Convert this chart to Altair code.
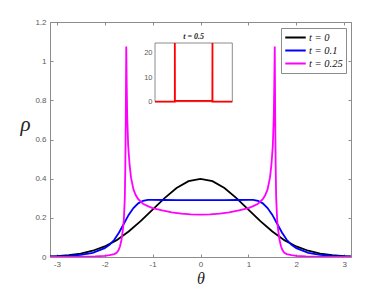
import altair as alt
import pandas as pd

PI = 3.14159

# ---- main curves ----
theta_t0 = [-3.14, -3.0, -2.75, -2.5, -2.25, -2.0, -1.75, -1.5, -1.25, -1.0, -0.75, -0.5, -0.25, 0.0,
            0.25, 0.5, 0.75, 1.0, 1.25, 1.5, 1.75, 2.0, 2.25, 2.5, 2.75, 3.0, 3.14]
rho_t0 = [0.003, 0.0045, 0.009, 0.0175, 0.032, 0.054, 0.086, 0.13, 0.183, 0.242, 0.301, 0.352, 0.387, 0.399,
          0.387, 0.352, 0.301, 0.242, 0.183, 0.13, 0.086, 0.054, 0.032, 0.0175, 0.009, 0.0045, 0.003]

theta_t01 = [-3.14, -2.75, -2.5, -2.25, -2.0, -1.9, -1.8, -1.7, -1.6, -1.5, -1.4, -1.3, -1.2, -1.1, -1.0,
             -0.75, -0.5, 0.0, 0.5, 0.75, 1.0, 1.1, 1.2, 1.3, 1.4, 1.5, 1.6, 1.7, 1.8, 1.9, 2.0,
             2.25, 2.5, 2.75, 3.14]
rho_t01 = [0.002, 0.006, 0.011, 0.021, 0.045, 0.062, 0.088, 0.125, 0.17, 0.215, 0.25, 0.274, 0.287, 0.292, 0.292,
           0.291, 0.29, 0.29, 0.29, 0.291, 0.292, 0.292, 0.287, 0.274, 0.25, 0.215, 0.17, 0.125, 0.088, 0.062, 0.045,
           0.021, 0.011, 0.006, 0.002]

theta_t025 = [-3.14, -2.5, -2.2, -2.0, -1.9, -1.8, -1.75, -1.71, -1.68, -1.65, -1.62, -1.6, -1.58, -1.57,
              -1.56, -1.55, -1.54, -1.53, -1.51, -1.48, -1.45, -1.4, -1.35, -1.3, -1.2, -1.1, -1.0, -0.8,
              -0.6, -0.4, -0.2, 0.0,
              0.2, 0.4, 0.6, 0.8, 1.0, 1.1, 1.2, 1.3, 1.35, 1.4, 1.45, 1.48, 1.51, 1.53, 1.54, 1.55,
              1.56, 1.57, 1.58, 1.6, 1.62, 1.65, 1.68, 1.71, 1.75, 1.8, 1.9, 2.0, 2.2, 2.5, 3.14]
rho_t025 = [0.0005, 0.001, 0.003, 0.006, 0.01, 0.015, 0.022, 0.035, 0.055, 0.087, 0.14, 0.19, 0.3, 0.45,
            0.7, 1.075, 0.88, 0.72, 0.57, 0.47, 0.405, 0.345, 0.315, 0.295, 0.272, 0.26, 0.25, 0.238,
            0.228, 0.222, 0.218, 0.216,
            0.218, 0.222, 0.228, 0.238, 0.25, 0.26, 0.272, 0.295, 0.315, 0.345, 0.405, 0.47, 0.57, 0.72, 0.88, 1.075,
            0.7, 0.45, 0.3, 0.19, 0.14, 0.087, 0.055, 0.035, 0.022, 0.015, 0.01, 0.006, 0.003, 0.001, 0.0005]

series_names = ["t = 0", "t = 0.1", "t = 0.25"]
series_colors = ["#000000", "#0000ff", "#ff00ff"]

# ---- inset (t = 0.5) ----
inset_theta = [-3.1416, -1.53, -1.53, -1.52, 1.52, 1.53, 1.53, 3.1416]
inset_rho = [0.0, 0.0, 24.0, 0.3, 0.3, 24.0, 0.0, 0.0]
inset_title = "t = 0.5"

x_ticks = [-3, -2, -1, 0, 1, 2, 3]
y_ticks = [0, 0.2, 0.4, 0.6, 0.8, 1.0, 1.2]
inset_y_ticks = [0, 10, 20]

rows = []
for name, xs, ys in zip(series_names, [theta_t0, theta_t01, theta_t025], [rho_t0, rho_t01, rho_t025]):
    for a, b in zip(xs, ys):
        rows.append({"theta": a, "rho": b, "series": name})
df = pd.DataFrame(rows)

inset_df = pd.DataFrame({"theta": inset_theta, "rho": inset_rho, "idx": list(range(len(inset_theta)))})
frame_df = pd.DataFrame({"x0": [-PI], "x1": [PI], "y0": [0.0], "y1": [24.0]})
title_df = pd.DataFrame({"x": [0.0], "y": [24.0], "label": [inset_title]})

W, H = 301, 235
GRAY = "#8c8c8c"
LAB = "#5a5a5a"
fmt = "replace(format(datum.value, '~g'), '\u2212', '-')"

main = alt.Chart(df).mark_line(strokeWidth=1.8, clip=True).encode(
    x=alt.X("theta:Q", scale=alt.Scale(domain=[-PI, PI], nice=False, zero=False),
            axis=alt.Axis(values=x_ticks, title="θ", labelExpr=fmt, ticks=False, labelPadding=3,
                          grid=True, gridColor=GRAY, gridDash=[3, H - 6, 3, 1000], gridOpacity=1,
                          titleFont="Liberation Serif", titleFontStyle="italic", titleFontWeight="normal",
                          titleFontSize=16, titleColor="#222", titleY=21, titleBaseline="middle")),
    y=alt.Y("rho:Q", scale=alt.Scale(domain=[0, 1.2], nice=False),
            axis=alt.Axis(values=y_ticks, title="ρ", labelExpr=fmt, ticks=False, labelPadding=4,
                          grid=True, gridColor=GRAY, gridDash=[3, W - 6, 3, 1000], gridOpacity=1,
                          titleFont="Liberation Serif", titleFontStyle="italic", titleFontWeight="normal",
                          titleFontSize=21, titleColor="#222", titleAngle=0, titleX=-25, titleY=102,
                          titleAlign="center", titleBaseline="middle")),
    color=alt.Color("series:N", scale=alt.Scale(domain=series_names, range=series_colors),
                    sort=series_names,
                    legend=alt.Legend(title=None, orient="none", legendX=231, legendY=6,
                                      symbolType="stroke", symbolSize=420, symbolStrokeWidth=1.8,
                                      labelFont="Liberation Serif", labelFontStyle="italic",
                                      labelFontSize=10.5, labelColor="#111", labelOffset=2,
                                      clipHeight=13, rowPadding=0, padding=3,
                                      strokeColor=GRAY, fillColor="white")),
)

ix = alt.Scale(domain=[-PI, PI], range=[105, 182.3], nice=False, zero=False)
iy = alt.Scale(domain=[0, 24], range=[79.7, 21], nice=False)

frame = alt.Chart(frame_df).mark_rect(fill="white", stroke=GRAY, strokeWidth=1).encode(
    x=alt.X("x0:Q", scale=ix, axis=None),
    x2="x1:Q",
    y=alt.Y("y0:Q", scale=iy,
            axis=alt.Axis(orient="left", offset=-105, values=inset_y_ticks, ticks=False, domain=False,
                          grid=False, labelPadding=3, labelFontSize=7.5, labelColor=LAB, title=None)),
    y2="y1:Q",
)
red = alt.Chart(inset_df).mark_line(color="#ff0000", strokeWidth=1.8).encode(
    x=alt.X("theta:Q", scale=ix, axis=None),
    y=alt.Y("rho:Q", scale=iy),
    order="idx:Q",
)
ttl = alt.Chart(title_df).mark_text(font="Liberation Serif", fontStyle="italic", fontWeight="bold",
                                    fontSize=8, dy=-6, color="#222").encode(
    x=alt.X("x:Q", scale=ix, axis=None),
    y=alt.Y("y:Q", scale=iy),
    text="label:N",
)
inset = alt.layer(frame, red, ttl)

chart = alt.layer(main, inset).resolve_scale(x="independent", y="independent").properties(
    width=W, height=H,
    autosize=alt.AutoSizeParams(type="none"),
    padding={"left": 42, "top": 14, "right": 29, "bottom": 30},
).configure_view(stroke=GRAY, strokeWidth=1).configure_axis(
    domainColor=GRAY, labelColor=LAB, labelFont="Liberation Sans", labelFontSize=8
)

chart.save("out.html", embed_options={"renderer": "svg", "actions": False})
